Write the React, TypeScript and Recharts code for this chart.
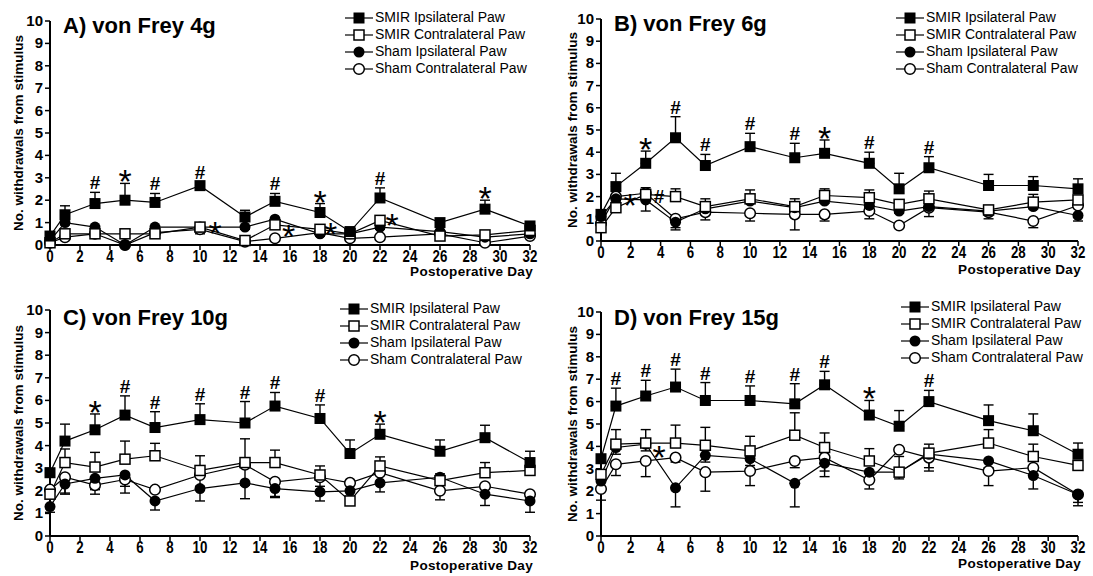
import React from 'react'
import { ComposedChart, Line, XAxis, YAxis, ErrorBar, Scatter, Legend } from 'recharts'

const FONT = '"Liberation Sans", Arial, Helvetica, sans-serif'

const days = [0, 1, 3, 5, 7, 10, 13, 15, 18, 20, 22, 26, 29, 32]
const xTicks = [0, 2, 4, 6, 8, 10, 12, 14, 16, 18, 20, 22, 24, 26, 28, 30, 32]
const yTicks = [0, 1, 2, 3, 4, 5, 6, 7, 8, 9, 10]
const seriesNames = ['SMIR Ipsilateral Paw', 'SMIR Contralateral Paw', 'Sham Ipsilateral Paw', 'Sham Contralateral Paw']
const markerKinds = ['fsq', 'osq', 'fci', 'oci']

// A) von Frey 4g
const aSmirIpsi = [0.4, 1.35, 1.85, 2.0, 1.9, 2.65, 1.25, 1.95, 1.45, 0.6, 2.1, 1.0, 1.6, 0.85]
const aSmirIpsiErr = [0, 0.4, 0.5, 0.75, 0.4, 0.15, 0.3, 0.35, 0.4, 0.1, 0.45, 0.1, 0.4, 0.1]
const aSmirContra = [0.1, 0.5, 0.5, 0.5, 0.5, 0.8, 0.2, 0.9, 0.7, 0.5, 1.1, 0.4, 0.45, 0.65]
const aSmirContraErr = [0, 0.1, 0.1, 0.1, 0.1, 0.15, 0.1, 0.2, 0.15, 0.1, 0.2, 0.1, 0.1, 0.1]
const aShamIpsi = [0.2, 1.0, 0.8, 0.0, 0.8, 0.8, 0.8, 1.15, 0.5, 0.5, 0.8, 0.6, 0.35, 0.5]
const aShamIpsiErr = [0.1, 0.1, 0.1, 0, 0.1, 0.1, 0.1, 0.15, 0.1, 0.1, 0.1, 0.1, 0.1, 0.1]
const aShamContra = [0.1, 0.35, 0.5, 0.0, 0.55, 0.7, 0.15, 0.3, 0.55, 0.3, 0.35, 0.5, 0.1, 0.4]
const aShamContraErr = [0, 0.1, 0.1, 0, 0.1, 0.2, 0.1, 0.1, 0.1, 0.1, 0.1, 0.1, 0.1, 0.1]
const aMarks = ['', '', '#', '*', '#', '#', '', '#', '*', '', '#', '', '*', '']
const aNotes = [
  { day: 11, y: 0.85, text: '*' },
  { day: 15.9, y: 0.7, text: '*' },
  { day: 18.7, y: 0.8, text: '*' },
  { day: 22.8, y: 1.2, text: '*' },
]

// B) von Frey 6g
const bSmirIpsi = [1.2, 2.45, 3.5, 4.65, 3.4, 4.25, 3.75, 3.95, 3.5, 2.35, 3.3, 2.5, 2.5, 2.35]
const bSmirIpsiErr = [0, 0.6, 0.55, 0.95, 0.5, 0.6, 0.65, 0.6, 0.5, 0.7, 0.5, 0.5, 0.4, 0.45]
const bSmirContra = [0.6, 1.5, 2.1, 2.0, 1.55, 1.9, 1.55, 2.05, 1.95, 1.65, 1.9, 1.4, 1.75, 1.85]
const bSmirContraErr = [0, 0.1, 0.3, 0.35, 0.35, 0.4, 0.35, 0.3, 0.35, 0.15, 0.35, 0.15, 0.35, 0.15]
const bShamIpsi = [1.1, 1.9, 1.85, 0.85, 1.45, 1.8, 1.5, 1.8, 1.6, 1.35, 1.55, 1.35, 1.55, 1.15]
const bShamIpsiErr = [0, 0.1, 0.5, 0.35, 0.1, 0.1, 0.1, 0.1, 0.1, 0.1, 0.1, 0.1, 0.1, 0.25]
const bShamContra = [0.8, 2.0, 2.15, 1.0, 1.3, 1.25, 1.2, 1.2, 1.35, 0.7, 1.5, 1.3, 0.9, 1.6]
const bShamContraErr = [0.1, 0.1, 0.2, 0.4, 0.35, 0.35, 0.7, 0.3, 0.35, 0.1, 0.4, 0.3, 0.3, 0.1]
const bMarks = ['', '', '*', '#', '#', '#', '#', '*', '#', '', '#', '', '', '']
const bNotes = [
  { day: 1.95, y: 1.95, text: '*' },
  { day: 3.9, y: 2.0, text: '#' },
]

// C) von Frey 10g
const cSmirIpsi = [2.8, 4.2, 4.7, 5.35, 4.8, 5.15, 5.0, 5.75, 5.2, 3.65, 4.5, 3.75, 4.35, 3.25]
const cSmirIpsiErr = [0, 0.75, 0.7, 0.85, 0.7, 0.7, 0.95, 0.6, 0.6, 0.6, 0.45, 0.5, 0.55, 0.5]
const cSmirContra = [1.85, 3.25, 3.05, 3.4, 3.55, 2.9, 3.25, 3.25, 2.7, 1.55, 3.1, 2.45, 2.8, 2.9]
const cSmirContraErr = [0.1, 0.6, 0.65, 0.8, 0.55, 0.65, 1.05, 0.55, 0.4, 0.2, 0.4, 0.3, 0.45, 0.2]
const cShamIpsi = [1.3, 2.3, 2.55, 2.7, 1.55, 2.1, 2.35, 2.1, 1.95, 2.0, 2.35, 2.6, 1.85, 1.55]
const cShamIpsiErr = [0.25, 0.45, 0.5, 0.5, 0.4, 0.55, 0.7, 0.4, 0.4, 0.3, 0.4, 0.3, 0.5, 0.5]
const cShamContra = [2.05, 2.6, 2.25, 2.5, 2.05, 2.7, 3.15, 2.4, 2.6, 2.35, 2.8, 2.0, 2.2, 1.85]
const cShamContraErr = [0.1, 0.7, 0.4, 0.6, 0.1, 0.5, 0.9, 0.65, 0.4, 0.1, 0.5, 0.4, 0.3, 0.1]
const cMarks = ['', '', '*', '#', '#', '#', '#', '#', '#', '', '*', '', '', '']
const cNotes: { day: number; y: number; text: string }[] = []

// D) von Frey 15g
const dSmirIpsi = [3.45, 5.8, 6.25, 6.65, 6.05, 6.05, 5.9, 6.75, 5.4, 4.9, 6.0, 5.15, 4.7, 3.65]
const dSmirIpsiErr = [0, 0.8, 0.7, 0.8, 0.8, 0.65, 0.9, 0.6, 0.65, 0.7, 0.5, 0.7, 0.75, 0.5]
const dSmirContra = [2.75, 4.1, 4.15, 4.15, 4.05, 3.8, 4.5, 3.95, 3.35, 2.85, 3.7, 4.15, 3.55, 3.15]
const dSmirContraErr = [0, 0.65, 0.6, 0.8, 0.8, 0.65, 1.0, 0.65, 0.55, 0.7, 0.4, 0.6, 0.55, 0.1]
const dShamIpsi = [2.45, 3.95, 4.1, 2.15, 3.6, 3.45, 2.35, 3.25, 2.85, 2.85, 3.65, 3.35, 2.7, 1.85]
const dShamIpsiErr = [0.3, 0.3, 0.3, 0.85, 0.3, 0.3, 1.05, 0.6, 0.3, 0.3, 0.6, 0.3, 0.6, 0.5]
const dShamContra = [2.1, 3.2, 3.35, 3.5, 2.85, 2.9, 3.35, 3.5, 2.5, 3.85, 3.5, 2.9, 3.05, 1.85]
const dShamContraErr = [0.5, 0.5, 0.7, 0.2, 0.85, 0.65, 0.3, 0.6, 0.4, 0.1, 0.6, 0.65, 0.3, 0.35]
const dMarks = ['', '#', '#', '#', '#', '#', '#', '#', '*', '', '#', '', '', '']
const dNotes = [{ day: 3.9, y: 3.85, text: '*' }]

// SMIR errors are drawn upward, sham errors downward (one-sided, like Prism)
function buildRows(vals: number[][], errs: number[][]) {
  return days.map((day, i) => ({
    day,
    s0: vals[0][i], s1: vals[1][i], s2: vals[2][i], s3: vals[3][i],
    e0: [0, errs[0][i]], e1: [0, errs[1][i]],
    e2: [errs[2][i], 0], e3: [errs[3][i], 0],
  }))
}

function buildNotes(ipsi: number[], ipsiErr: number[], marks: string[], side: { day: number; y: number; text: string }[]) {
  const above = days
    .map((day, i) => ({ day, y: ipsi[i] + ipsiErr[i], text: marks[i], pos: 'above' }))
    .filter((d) => d.text !== '')
  return [...above, ...side.map((d) => ({ ...d, pos: 'center' }))]
}

function Marker({ kind, cx, cy }: { kind: string; cx: number; cy: number }) {
  if (kind === 'fsq') return <rect x={cx - 5.5} y={cy - 5.5} width={11} height={11} fill="#000" />
  if (kind === 'osq') return <rect x={cx - 5} y={cy - 5} width={10} height={10} fill="#fff" stroke="#000" strokeWidth={1.5} />
  if (kind === 'fci') return <circle cx={cx} cy={cy} r={5.5} fill="#000" />
  return <circle cx={cx} cy={cy} r={5.3} fill="#fff" stroke="#000" strokeWidth={1.5} />
}

const makeDot = (kind: string) => (props: any) => {
  const { cx, cy, index } = props
  if (cx == null || cy == null) return <g key={index} />
  return (
    <g key={index}>
      <Marker kind={kind} cx={cx} cy={cy} />
    </g>
  )
}

const AnnoShape = (props: any) => {
  const { cx, cy, payload } = props
  const star = payload.text === '*'
  let y = cy
  if (payload.pos === 'above') y = star ? cy + 10 : cy - 3
  else y = star ? cy + 19 : cy + 6
  return (
    <text
      x={cx}
      y={y}
      textAnchor="middle"
      fontFamily={FONT}
      fontWeight={star ? 'normal' : 'bold'}
      fontSize={star ? 34 : 19}
      fill="#000"
      stroke="none"
    >
      {payload.text}
    </text>
  )
}

const XTick = (props: any) => {
  const { x, y, payload } = props
  return (
    <g transform={`translate(${x},${y})`}>
      <text x={0} y={0} textAnchor="middle" fontFamily={FONT} fontWeight="bold" fontSize={14} fill="#000" transform="scale(0.95,1.12) translate(0,8.5)">
        {payload.value}
      </text>
    </g>
  )
}

const YTick = (props: any) => {
  const { x, y, payload } = props
  return (
    <text x={x} y={y + 5} textAnchor="end" fontFamily={FONT} fontWeight="bold" fontSize={15} fill="#000">
      {payload.value}
    </text>
  )
}

function LegendBox() {
  return (
    <div style={{ fontFamily: FONT, fontSize: 14, color: '#000', lineHeight: '17px' }}>
      {seriesNames.map((name, i) => (
        <div key={name} style={{ display: 'flex', alignItems: 'center', height: 17 }}>
          <svg width={28} height={14} style={{ marginRight: 2 }}>
            <line x1={0} y1={7} x2={28} y2={7} stroke="#000" strokeWidth={1.2} />
            <Marker kind={markerKinds[i]} cx={14} cy={7} />
          </svg>
          <span style={{ whiteSpace: 'nowrap' }}>{name}</span>
        </div>
      ))}
    </div>
  )
}

interface PanelProps {
  left: number
  top: number
  width: number
  height: number
  plotTop: number
  plotBottom: number
  plotRight: number
  title: string
  titleTop: number
  legendLeft: number
  legendTop: number
  xTitleTop: number
  yTitleX: number
  rows: any[]
  notes: any[]
}

function Panel(p: PanelProps) {
  const order = [3, 2, 1, 0]
  return (
    <div style={{ position: 'absolute', left: p.left, top: p.top, width: p.width, height: p.height }}>
      <ComposedChart
        width={p.width}
        height={p.height}
        data={p.rows}
        margin={{ top: p.plotTop, right: p.width - p.plotRight, bottom: p.height - p.plotBottom - 30, left: 0 }}
      >
        <XAxis
          type="number"
          dataKey="day"
          domain={[0, 32]}
          ticks={xTicks}
          interval={0}
          height={30}
          tick={<XTick />}
          tickSize={5}
          axisLine={{ stroke: '#000', strokeWidth: 2 }}
          tickLine={{ stroke: '#000', strokeWidth: 1.5 }}
        />
        <YAxis
          type="number"
          domain={[0, 10]}
          ticks={yTicks}
          interval={0}
          width={50}
          tick={<YTick />}
          tickSize={5}
          axisLine={{ stroke: '#000', strokeWidth: 2 }}
          tickLine={{ stroke: '#000', strokeWidth: 1.5 }}
        />
        <Legend
          layout="vertical"
          align="center"
          verticalAlign="middle"
          wrapperStyle={{ left: p.legendLeft, top: p.legendTop, width: 210 }}
          content={() => <LegendBox />}
        />
        {order.map((k) => (
          <Line
            key={k}
            type="linear"
            dataKey={`s${k}`}
            name={seriesNames[k]}
            stroke="#000"
            strokeWidth={1.2}
            dot={makeDot(markerKinds[k])}
            activeDot={false}
            isAnimationActive={false}
          >
            <ErrorBar dataKey={`e${k}`} width={5} strokeWidth={1.4} stroke="#000" direction="y" />
          </Line>
        ))}
        <Scatter data={p.notes} dataKey="y" shape={AnnoShape} isAnimationActive={false} legendType="none" />
      </ComposedChart>
      <div
        style={{
          position: 'absolute', left: 63, top: p.titleTop, fontFamily: FONT, fontWeight: 'bold',
          fontSize: 22, whiteSpace: 'nowrap', lineHeight: '26px',
        }}
      >
        {p.title}
      </div>
      <div
        style={{
          position: 'absolute', left: p.yTitleX, top: (p.plotTop + p.plotBottom) / 2,
          transform: 'translate(-50%, -50%) rotate(-90deg)', fontFamily: FONT, fontWeight: 'bold',
          fontSize: 13.5, whiteSpace: 'nowrap', lineHeight: '16px',
        }}
      >
        No. withdrawals from stimulus
      </div>
      <div
        style={{
          position: 'absolute', right: p.width - p.plotRight - 3, top: p.xTitleTop, fontFamily: FONT,
          fontWeight: 'bold', fontSize: 13.5, whiteSpace: 'nowrap', lineHeight: '14px', letterSpacing: 0.3,
        }}
      >
        Postoperative Day
      </div>
    </div>
  )
}

export default function App() {
  const rowsA = buildRows([aSmirIpsi, aSmirContra, aShamIpsi, aShamContra], [aSmirIpsiErr, aSmirContraErr, aShamIpsiErr, aShamContraErr])
  const rowsB = buildRows([bSmirIpsi, bSmirContra, bShamIpsi, bShamContra], [bSmirIpsiErr, bSmirContraErr, bShamIpsiErr, bShamContraErr])
  const rowsC = buildRows([cSmirIpsi, cSmirContra, cShamIpsi, cShamContra], [cSmirIpsiErr, cSmirContraErr, cShamIpsiErr, cShamContraErr])
  const rowsD = buildRows([dSmirIpsi, dSmirContra, dShamIpsi, dShamContra], [dSmirIpsiErr, dSmirContraErr, dShamIpsiErr, dShamContraErr])
  return (
    <div style={{ position: 'absolute', left: 0, top: 0, width: 1093, height: 576, background: '#fff', overflow: 'hidden' }}>
      <Panel
        left={0} top={0} width={546} height={290} plotTop={21} plotBottom={245} plotRight={530}
        title="A) von Frey 4g" titleTop={13} legendLeft={345} legendTop={9} xTitleTop={265} yTitleX={19}
        rows={rowsA} notes={buildNotes(aSmirIpsi, aSmirIpsiErr, aMarks, aNotes)}
      />
      <Panel
        left={551} top={0} width={542} height={290} plotTop={19} plotBottom={241} plotRight={527}
        title="B) von Frey 6g" titleTop={11} legendLeft={345} legendTop={9} xTitleTop={263} yTitleX={22}
        rows={rowsB} notes={buildNotes(bSmirIpsi, bSmirIpsiErr, bMarks, bNotes)}
      />
      <Panel
        left={0} top={288} width={546} height={288} plotTop={22} plotBottom={248} plotRight={530}
        title="C) von Frey 10g" titleTop={17} legendLeft={340} legendTop={12} xTitleTop={271} yTitleX={19}
        rows={rowsC} notes={buildNotes(cSmirIpsi, cSmirIpsiErr, cMarks, cNotes)}
      />
      <Panel
        left={551} top={288} width={542} height={288} plotTop={24} plotBottom={248} plotRight={527}
        title="D) von Frey 15g" titleTop={17} legendLeft={350} legendTop={10} xTitleTop={269} yTitleX={22}
        rows={rowsD} notes={buildNotes(dSmirIpsi, dSmirIpsiErr, dMarks, dNotes)}
      />
    </div>
  )
}
